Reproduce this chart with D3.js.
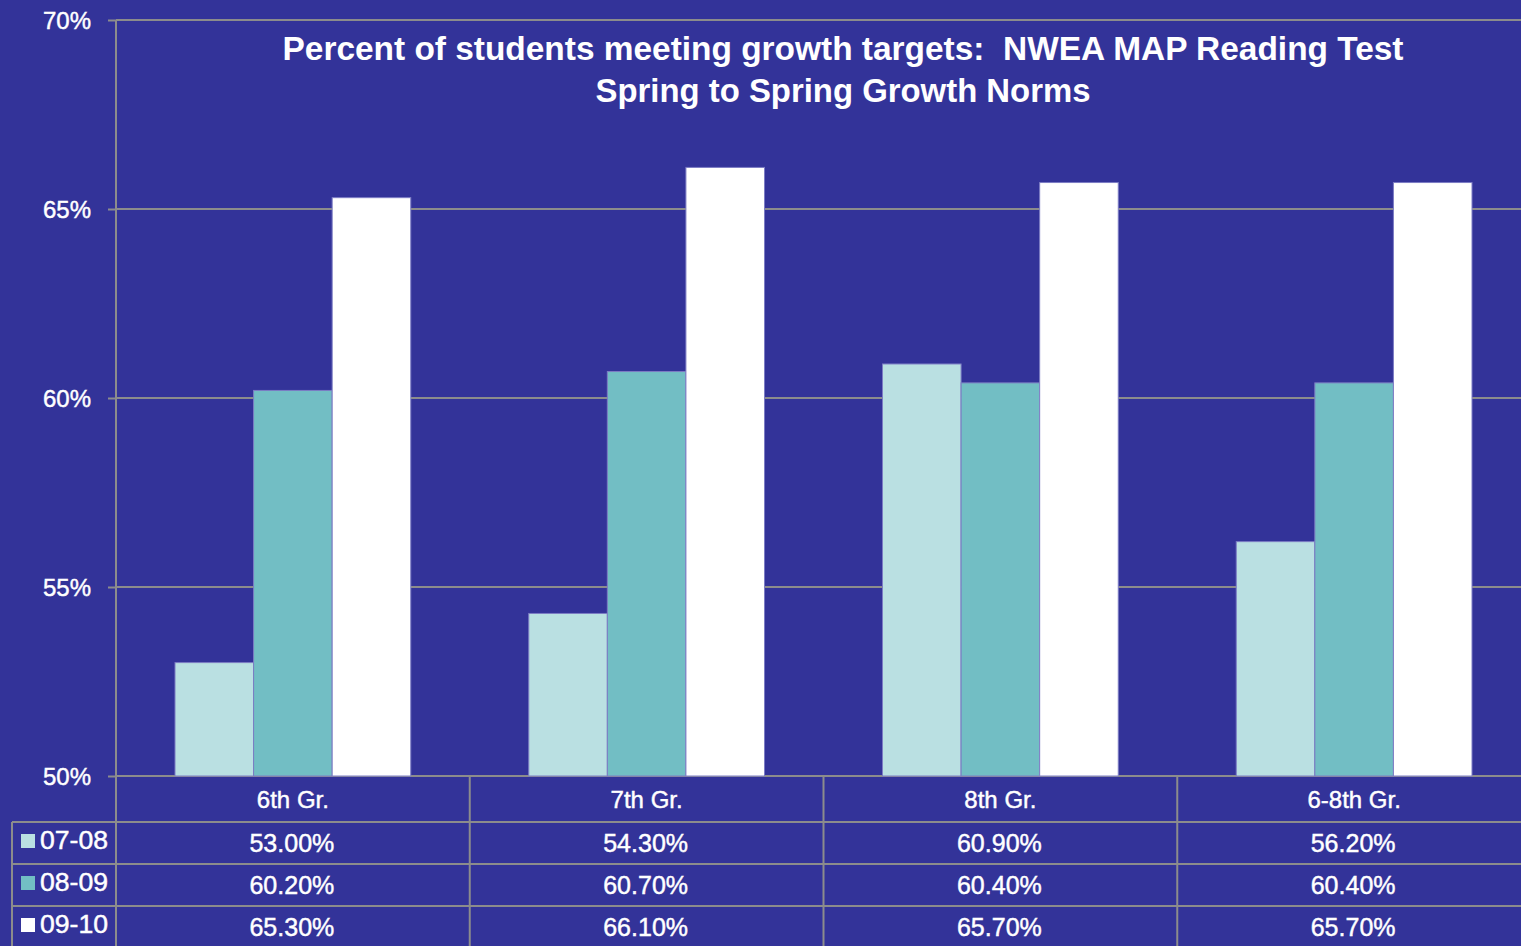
<!DOCTYPE html>
<html><head><meta charset="utf-8">
<script src="https://cdn.jsdelivr.net/npm/d3@7"></script>
<style>html,body{margin:0;padding:0;background:#333399;overflow:hidden}</style>
</head><body><svg id="c" width="1521" height="946"></svg>
<script>
const categories = ["6th Gr.", "7th Gr.", "8th Gr.", "6-8th Gr."];
const seriesNames = ["07-08", "08-09", "09-10"];
const s0708 = [53.0, 54.3, 60.9, 56.2];
const s0809 = [60.2, 60.7, 60.4, 60.4];
const s0910 = [65.3, 66.1, 65.7, 65.7];
const yTicks = [50, 55, 60, 65, 70];
const titleLines = ["Percent of students meeting growth targets:  NWEA MAP Reading Test", "Spring to Spring Growth Norms"];

(function(){
const series = [s0708, s0809, s0910];
const colors = ["#bae0e2", "#72bec4", "#ffffff"];
const font = "'Liberation Sans', Arial, sans-serif";
const grid = "#8c8c8c";

const svg = d3.select("#c");
svg.append("rect").attr("width",1521).attr("height",946).attr("fill","#333399");

const pLeft = 116, pRight = 1531, pTop = 20, pBottom = 776;
const x = d3.scaleBand().domain(categories).range([pLeft, pRight]).padding(0);
const x1 = d3.scaleBand().domain(seriesNames).range([59, x.bandwidth()-59]).padding(0);
const y = d3.scaleLinear().domain([50, 70]).range([pBottom, pTop]);

function txt(sel, size){
  return sel.attr("fill","#fff").attr("font-family",font).attr("font-size",size)
    .attr("stroke","#fff").attr("stroke-width",0.45);
}

// gridlines + ticks
const yAxis = d3.axisLeft(y).tickValues(yTicks).tickSize(8).tickFormat(d => d + "%");
const ga = svg.append("g").attr("transform", `translate(${pLeft},0)`).call(yAxis);
ga.select(".domain").remove();
ga.selectAll(".tick line").attr("stroke", grid).attr("stroke-width", 2);
txt(ga.selectAll(".tick text"), 24).attr("x",-25).attr("dy","0.35em").attr("text-anchor","end");
svg.append("g").selectAll("line").data(yTicks).join("line")
  .attr("x1", pLeft).attr("x2", 1521).attr("y1", d => y(d)).attr("y2", d => y(d))
  .attr("stroke", grid).attr("stroke-width", 2);
svg.append("line").attr("x1",pLeft).attr("x2",pLeft).attr("y1",pTop).attr("y2",946)
  .attr("stroke",grid).attr("stroke-width",2);

// bars
const g = svg.append("g");
categories.forEach((c, i) => {
  series.forEach((s, j) => {
    g.append("rect")
      .attr("x", x(c) + x1(seriesNames[j]))
      .attr("y", y(s[i]))
      .attr("width", x1.bandwidth())
      .attr("height", y(50) - y(s[i]))
      .attr("fill", colors[j])
      .attr("stroke", "#7c7cc4").attr("stroke-width", 1);
  });
});

// title
const t = svg.append("text").attr("fill","#fff").attr("font-family",font).attr("font-weight","bold")
  .attr("font-size",34).attr("text-anchor","middle").style("white-space","pre");
t.append("tspan").attr("x",843).attr("y",60).attr("textLength",1121).attr("lengthAdjust","spacingAndGlyphs").text(titleLines[0]);
t.append("tspan").attr("x",843).attr("y",102).attr("textLength",495).attr("lengthAdjust","spacingAndGlyphs").text(titleLines[1]);

// data table
const rowY = [776, 822, 864, 906, 948];
const tg = svg.append("g");
rowY.slice(1).forEach(ry => tg.append("line").attr("x1",12).attr("x2",1521).attr("y1",ry).attr("y2",ry).attr("stroke",grid).attr("stroke-width",2));
categories.forEach((c,i) => {
  if (i>0) tg.append("line").attr("x1",x(c)).attr("x2",x(c)).attr("y1",pBottom).attr("y2",946).attr("stroke",grid).attr("stroke-width",2);
});
tg.append("line").attr("x1",12).attr("x2",12).attr("y1",822).attr("y2",946).attr("stroke",grid).attr("stroke-width",2);

categories.forEach(c => {
  txt(tg.append("text"), 24).attr("x", x(c)+x.bandwidth()/2).attr("y", 808).attr("text-anchor","middle").text(c);
});
series.forEach((s, j) => {
  const cy = rowY[j+1];
  tg.append("rect").attr("x",21).attr("y",cy+12).attr("width",14).attr("height",14).attr("fill",colors[j]);
  txt(tg.append("text"), 25).attr("x",40).attr("y",cy+27).attr("textLength",68).attr("lengthAdjust","spacingAndGlyphs").text(seriesNames[j]);
  s.forEach((v, i) => {
    txt(tg.append("text"), 25).attr("x", x(categories[i])+x.bandwidth()/2 - 1).attr("y", cy+30).attr("text-anchor","middle")
      .text(v.toFixed(2)+"%");
  });
});
})();
</script></body></html>
